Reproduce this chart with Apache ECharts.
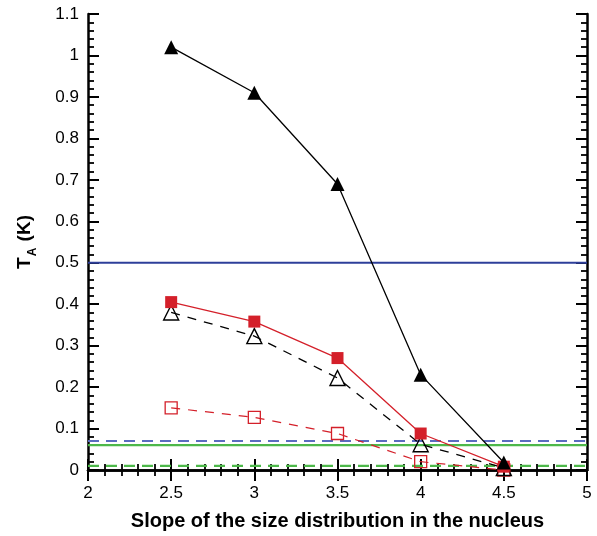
<!DOCTYPE html>
<html><head><meta charset="utf-8">
<script src="https://cdn.jsdelivr.net/npm/echarts@6/dist/echarts.min.js"></script>
<style>html,body{margin:0;padding:0;background:#fff}#c{width:597px;height:536px}</style>
</head><body><div id="c"></div>
<script>
const slopes = [2.5, 3, 3.5, 4, 4.5];
const filledTriangle = [1.02, 0.91, 0.69, 0.23, 0.018];
const filledSquare = [0.405, 0.358, 0.27, 0.088, 0.008];
const openTriangle = [0.38, 0.323, 0.222, 0.062, 0.005];
const openSquare = [0.15, 0.127, 0.088, 0.02, 0.0];
const hLines = [
  {value: 0.5, color: '#2e3f9a', type: 'solid', width: 1.8},
  {value: 0.07, color: '#5a6cc0', type: 'dashed', width: 2.2},
  {value: 0.06, color: '#4db84a', type: 'solid', width: 2.2},
  {value: 0.01, color: '#4db84a', type: 'dashed', width: 2.2}
];
const xRange = [2, 5];
const font = 'Liberation Sans, Arial, sans-serif';

function pts(arr){ return slopes.map((s,i)=>[s, arr[i]]); }

const axCommon = (show) => ({
  axisLine: {show: true, lineStyle: {color: '#000', width: 2.5}},
  axisTick: {show: true, inside: true, length: 11, lineStyle: {color: '#000', width: 2}},
  minorTick: {show: true, splitNumber: 5, length: 6, lineStyle: {color: '#000', width: 1.8}},
  splitLine: {show: false},
  axisLabel: {show: show, color: '#000', fontFamily: font, fontSize: 17}
});

const series = [];
hLines.forEach(h => series.push({
  type: 'line', data: [[xRange[0], h.value], [xRange[1], h.value]], symbol: 'none',
  lineStyle: {color: h.color, width: h.width, type: h.type === 'dashed' ? [11, 7] : 'solid'}, z: 1, silent: true
}));
series.push({type: 'line', data: pts(openSquare), symbol: 'rect', symbolSize: 12,
  itemStyle: {color: 'rgba(0,0,0,0)', borderColor: '#d4202a', borderWidth: 1.3},
  lineStyle: {color: '#d4202a', width: 1.2, type: [9, 8]}, z: 3});
series.push({type: 'line', data: pts(openTriangle), symbol: 'triangle', symbolSize: 15,
  itemStyle: {color: 'rgba(0,0,0,0)', borderColor: '#000', borderWidth: 1.4},
  lineStyle: {color: '#000', width: 1.3, type: [9, 8]}, z: 3});
series.push({type: 'line', data: pts(filledSquare), symbol: 'rect', symbolSize: 12,
  itemStyle: {color: '#d4202a'}, lineStyle: {color: '#d4202a', width: 1.3}, z: 4});
series.push({type: 'line', data: pts(filledTriangle), symbol: 'triangle', symbolSize: 14,
  itemStyle: {color: '#000'}, lineStyle: {color: '#000', width: 1.3}, z: 5});

const chart = echarts.init(document.getElementById('c'), null, {renderer: 'canvas'});
chart.setOption({
  animation: false,
  grid: {left: 88, right: 10, top: 14, bottom: 66, containLabel: false, outerBoundsMode: 'none'},
  xAxis: [
    Object.assign({type: 'value', min: 2, max: 5, interval: 0.5, position: 'bottom',
      name: 'Slope of the size distribution in the nucleus', nameLocation: 'middle', nameGap: 41,
      nameTextStyle: {color: '#000', fontFamily: font, fontSize: 20, fontWeight: 'bold'}}, axCommon(true),
      {axisLabel: {color: '#000', fontFamily: font, fontSize: 17, margin: 15}}),
    Object.assign({type: 'value', min: 2, max: 5, interval: 0.5, position: 'top'}, axCommon(false))
  ],
  yAxis: [
    Object.assign({type: 'value', min: 0, max: 1.1, interval: 0.1, position: 'left',
      name: '{t|T}{s|A}{t| (K)}', nameLocation: 'middle', nameGap: 54, nameRotate: 90,
      nameTextStyle: {rich: {
        t: {color: '#000', fontFamily: font, fontSize: 19, fontWeight: 'bold', verticalAlign: 'bottom'},
        s: {color: '#000', fontFamily: font, fontSize: 12, fontWeight: 'bold', verticalAlign: 'bottom', padding: [0, 1, -5, 1]}
      }}}, axCommon(true),
      {axisLabel: {color: '#000', fontFamily: font, fontSize: 17, margin: 9}}),
    Object.assign({type: 'value', min: 0, max: 1.1, interval: 0.1, position: 'right'}, axCommon(false))
  ],
  series: series
});
</script></body></html>
